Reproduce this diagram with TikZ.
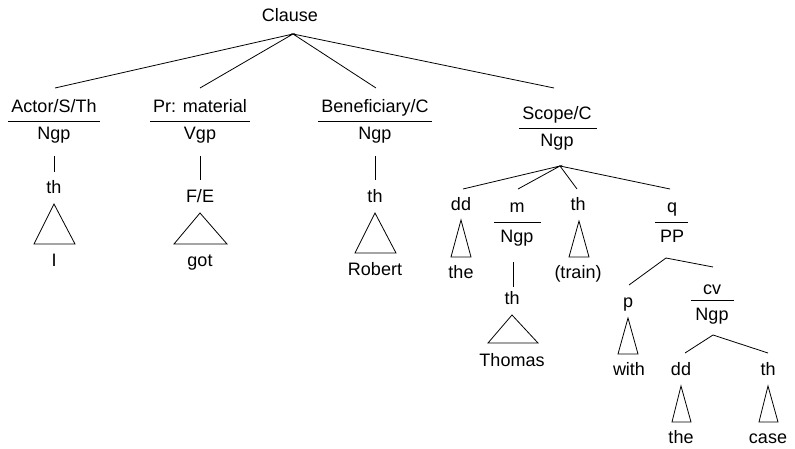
\documentclass[tikz,border=0pt]{standalone}
\usepackage{fontspec}
\setmainfont{Liberation Sans}
\begin{document}
\begin{tikzpicture}[x=1pt,y=-1pt,
  lbl/.style={font=\fontsize{18}{20}\selectfont, inner sep=0pt, anchor=base},
  ln/.style={line width=0.8pt, line join=miter},
  tri/.style={line width=0.8pt, line join=miter}]
\useasboundingbox (0,0) rectangle (795,449);
% --- texts ---
\node[lbl] (clause) at (290,22) {Clause};
\node[lbl] (actor) at (54,113) {Actor/S/Th};
\node[lbl] (actorN) at (54,140) {Ngp};
\node[lbl] (pr) at (200,113) {Pr: material};
\node[lbl] (prV) at (200,140) {Vgp};
\node[lbl] (ben) at (375,113) {Beneficiary/C};
\node[lbl] (benN) at (375,140) {Ngp};
\node[lbl] (scope) at (557,120) {Scope/C};
\node[lbl] (scopeN) at (557,147) {Ngp};
\node[lbl] (th1) at (54,194) {th};
\node[lbl] (I) at (54,266) {I};
\node[lbl] (fe) at (200,203) {F/E};
\node[lbl] (got) at (200,266) {got};
\node[lbl] (th2) at (375,203) {th};
\node[lbl] (robert) at (375,275) {Robert};
\node[lbl] (dd1) at (461,211) {dd};
\node[lbl] (the1) at (461,278) {the};
\node[lbl] (m) at (517,213) {m};
\node[lbl] (mN) at (517,243) {Ngp};
\node[lbl] (th3) at (512,304) {th};
\node[lbl] (thomas) at (512,366) {Thomas};
\node[lbl] (th4) at (578,211) {th};
\node[lbl] (train) at (578,278) {(train)};
\node[lbl] (q) at (672,213) {q};
\node[lbl] (qP) at (672,243) {PP};
\node[lbl] (p) at (628,307) {p};
\node[lbl] (with) at (629,375) {with};
\node[lbl] (cv) at (712,294) {cv};
\node[lbl] (cvN) at (712,320) {Ngp};
\node[lbl] (dd2) at (681,375) {dd};
\node[lbl] (the2) at (681,443) {the};
\node[lbl] (th5) at (768,375) {th};
\node[lbl] (case) at (768,443) {case};
% --- underlines ---
\draw[ln] (8,121) -- (100,121);
\draw[ln] (150,121) -- (250,121);
\draw[ln] (318,121) -- (432,121);
\draw[ln] (519,128) -- (597,128);
\draw[ln] (494,222) -- (541,222);
\draw[ln] (655,222) -- (688,222);
\draw[ln] (691,300) -- (734,300);
% --- branch coordinates ---
\coordinate (cA) at (293,34);
\coordinate (e1) at (55,88);
\coordinate (e2) at (200,88);
\coordinate (e3) at (376,88);
\coordinate (e4) at (554,88);
\draw[ln] (e1) -- (cA) -- (e2);
\draw[ln] (e3) -- (cA) -- (e4);
\coordinate (sA) at (560,166);
\coordinate (s1) at (463,189);
\coordinate (s2) at (518,189);
\coordinate (s3) at (577,189);
\coordinate (s4) at (670,189);
\draw[ln] (s1) -- (sA) -- (s2);
\draw[ln] (s3) -- (sA) -- (s4);
\coordinate (qA) at (666,258);
\coordinate (q1) at (629,285);
\coordinate (q2) at (713,267);
\draw[ln] (q1) -- (qA) -- (q2);
\coordinate (cA2) at (713,335);
\coordinate (c1) at (685,353);
\coordinate (c2) at (768,353);
\draw[ln] (c1) -- (cA2) -- (c2);
% --- vertical links ---
\draw[ln] (54,156) -- (54,172);
\draw[ln] (200,156) -- (200,180);
\draw[ln] (375,156) -- (375,180);
\draw[ln] (513,262) -- (513,287);
% --- triangles ---
\draw[tri] (54,204) -- (34,244) -- (75,244) -- cycle;
\draw[tri] (200,213) -- (174,244) -- (227,244) -- cycle;
\draw[tri] (375,213) -- (355,253) -- (396,253) -- cycle;
\draw[tri] (461,220) -- (451,257) -- (471,257) -- cycle;
\draw[tri] (512,315) -- (488,343) -- (538,343) -- cycle;
\draw[tri] (579,221) -- (569,257) -- (589,257) -- cycle;
\draw[tri] (628,318) -- (618,354) -- (638,354) -- cycle;
\draw[tri] (681,386) -- (672,422) -- (691,422) -- cycle;
\draw[tri] (768,386) -- (759,422) -- (778,422) -- cycle;
\end{tikzpicture}
\end{document}
